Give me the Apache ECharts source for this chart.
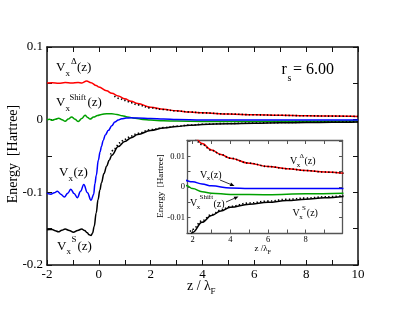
<!DOCTYPE html>
<html><head><meta charset="utf-8">
<script src="https://cdn.jsdelivr.net/npm/echarts@6/dist/echarts.min.js"></script>
<style>html,body{margin:0;padding:0;background:#fff}#c{width:403px;height:312px}</style>
</head><body><div id="c"></div>
<script>
// ---- data (z in units of lambda_F, energy in Hartree) ----
const redZ   = [-2, -1.8, -1.55, -1.3, -1.05, -0.8, -0.65, -0.47, -0.3, -0.1, 0, 0.3, 0.5, 0.75, 1.0, 1.25, 1.5, 2.0, 2.5, 3, 3.5, 4, 5, 6, 7, 8, 9, 10];
const redV   = [0.0505, 0.0508, 0.0502, 0.051, 0.0503, 0.0512, 0.0506, 0.0533, 0.0508, 0.047, 0.0448, 0.0398, 0.0362, 0.0325, 0.0287, 0.0252, 0.0222, 0.0172, 0.0142, 0.0121, 0.0106, 0.0094, 0.0078, 0.0067, 0.006, 0.0054, 0.0049, 0.0045];

const greenZ = [-2, -1.9, -1.8, -1.68, -1.55, -1.42, -1.3, -1.18, -1.05, -0.92, -0.79, -0.66, -0.53, -0.43, -0.34, -0.2, -0.05, 0.1, 0.3, 0.5, 0.7, 0.9, 1.1, 1.4, 1.7, 2.0, 2.5, 3, 4, 6, 8, 10];
const greenV = [0.0, 0.0005, -0.0008, 0.0005, 0.002, 0.0, -0.0022, 0.0008, 0.0038, 0.0005, -0.0025, 0.0015, 0.0062, 0.003, 0.0008, 0.0035, 0.0058, 0.0072, 0.0081, 0.0081, 0.0071, 0.0055, 0.0038, 0.0018, 0.0004, -0.0005, -0.0015, -0.002, -0.0024, -0.0025, -0.0022, -0.002];

const blueZ  = [-2, -1.92, -1.85, -1.72, -1.6, -1.47, -1.33, -1.2, -1.08, -0.955, -0.83, -0.705, -0.58, -0.44, -0.3, -0.2, -0.15, -0.1, -0.02, 0.05, 0.1, 0.17, 0.25, 0.37, 0.5, 0.62, 0.75, 0.88, 1.05, 1.25, 1.5, 2, 2.5, 3, 4, 5, 6, 8, 10];
const blueV  = [-0.1012, -0.1022, -0.1025, -0.1005, -0.0985, -0.1025, -0.1065, -0.1012, -0.0958, -0.1015, -0.1073, -0.0985, -0.0893, -0.1005, -0.111, -0.103, -0.088, -0.077, -0.056, -0.044, -0.037, -0.0285, -0.021, -0.0147, -0.0085, -0.0033, -0.0005, 0.0012, 0.0022, 0.0025, 0.0023, 0.0017, 0.001, 0.0004, -0.0003, -0.0005, -0.0005, -0.0005, -0.0005];

const blackZ = [-2, -1.9, -1.8, -1.68, -1.56, -1.43, -1.3, -1.14, -0.98, -0.82, -0.66, -0.55, -0.45, -0.37, -0.3, -0.24, -0.18, -0.1, -0.03, 0.04, 0.1, 0.2, 0.3, 0.4, 0.5, 0.75, 1.0, 1.25, 1.5, 2, 2.5, 3, 3.5, 4, 5, 6, 7, 8, 9, 10];
const blackV = [-0.1515, -0.151, -0.1512, -0.1528, -0.1543, -0.1522, -0.1505, -0.1525, -0.155, -0.1525, -0.1505, -0.1525, -0.1555, -0.1585, -0.1595, -0.156, -0.147, -0.128, -0.11, -0.097, -0.087, -0.074, -0.064, -0.056, -0.049, -0.037, -0.03, -0.025, -0.0205, -0.0148, -0.0115, -0.0093, -0.0078, -0.0066, -0.0056, -0.005, -0.0044, -0.004, -0.0035, -0.0031];

const dRedZ  = [0.6, 0.8, 1.0, 1.25, 1.5, 2.0, 2.5, 3, 3.5, 4, 5, 6, 7, 8, 9, 10];
const dRedV  = [0.0325, 0.029, 0.0265, 0.0232, 0.0203, 0.0162, 0.0139, 0.012, 0.0106, 0.0094, 0.0078, 0.0067, 0.006, 0.0054, 0.0049, 0.0045];

const dBlkZ  = [0.45, 0.6, 0.8, 1.0, 1.25, 1.5, 2, 2.5, 3, 3.5, 4, 5, 6, 7, 8, 9, 10];
const dBlkV  = [-0.048, -0.040, -0.032, -0.027, -0.0225, -0.0188, -0.0138, -0.011, -0.009, -0.0075, -0.0063, -0.0052, -0.0046, -0.004, -0.0036, -0.0032, -0.0028];

const insetTickZ  = [2, 3, 4, 5, 6, 7, 8, 9];
const insetLabelZ = [2, 4, 6, 8];

// ---- helpers ----
const zip = (a, b) => a.map((v, i) => [v, b[i]]);
const FONT = 'Liberation Serif';
function T(x, y, text, size, opts) {
  return Object.assign({
    type: 'text', x: x, y: y, z: 100,
    style: { text: text, fontFamily: FONT, fontSize: size, fill: '#000',
      textAlign: 'left', textVerticalAlign: 'middle', align: 'left', verticalAlign: 'middle' }
  }, opts || {});
}
function arrow(x1, y1, x2, y2) {
  const a = Math.atan2(y2 - y1, x2 - x1), L = 4.5, W = 1.8;
  const bx = x2 - L * Math.cos(a), by = y2 - L * Math.sin(a);
  const px = -Math.sin(a) * W, py = Math.cos(a) * W;
  return [
    { type: 'line', z: 100, shape: { x1: x1, y1: y1, x2: bx, y2: by }, style: { stroke: '#000', lineWidth: 0.8 } },
    { type: 'polygon', z: 100, shape: { points: [[x2, y2], [bx + px, by + py], [bx - px, by - py]] }, style: { fill: '#000' } }
  ];
}

const mainAxisLine = { onZero: false, lineStyle: { color: '#111', width: 1.5 } };
const insetAxisLine = { onZero: false, lineStyle: { color: '#555', width: 1.3 } };

function xFmt(v) { const r = Math.round(v); return (Math.abs(v - r) < 1e-6 && r % 2 === 0) ? String(r) : ''; }
function yFmtMain(v) { const r = Math.round(v * 100) / 100; return Math.abs(r * 10 - Math.round(r * 10)) < 1e-6 ? (r === 0 ? '0' : String(r)) : ''; }
function yFmtInset(v) { const r = Math.round(v * 1000) / 1000; return Math.abs(r * 100 - Math.round(r * 100)) < 1e-6 ? (r === 0 ? '0' : String(r)) : ''; }

const mainX = { min: -2, max: 10, interval: 1 };
const mainY = { min: -0.2, max: 0.1, interval: 0.05 };
const insX = { min: 1.7, max: 9.95 };
const insY = { min: -0.015, max: 0.0152, interval: 0.005 };

function line(name, z, v, color, xi, yi, dotted) {
  return {
    type: 'line', name: name, data: zip(z, v), xAxisIndex: xi, yAxisIndex: yi,
    showSymbol: false, symbol: 'none', smooth: 0.4, smoothMonotone: 'x', clip: true,
    lineStyle: dotted ? { color: '#000', width: 1.6, type: [1.4, 2.2] } : { color: color, width: 1.5 },
    z: dotted ? 4 : 3, silent: true
  };
}

const option = {
  animation: false,
  backgroundColor: '#fff',
  grid: [
    { left: 47, top: 47, right: 45, bottom: 47, show: false },
    { left: 187, top: 140.5, right: 60.5, bottom: 79, show: true, backgroundColor: '#fff', borderWidth: 0, z: 5 }
  ],
  xAxis: [
    Object.assign({ type: 'value', gridIndex: 0, position: 'bottom', axisLine: mainAxisLine,
      axisTick: { inside: true, length: 5, lineStyle: { color: '#111', width: 1 } },
      axisLabel: { formatter: xFmt, fontFamily: FONT, fontSize: 13, color: '#000', margin: 3 },
      splitLine: { show: false } }, mainX),
    Object.assign({ type: 'value', gridIndex: 0, position: 'top', axisLine: mainAxisLine,
      axisTick: { inside: true, length: 5, lineStyle: { color: '#111', width: 1 } },
      axisLabel: { show: false }, splitLine: { show: false } }, mainX),
    Object.assign({ type: 'value', gridIndex: 1, position: 'bottom', axisLine: insetAxisLine, z: 6,
      axisTick: { inside: true, length: 3.5, customValues: insetTickZ, lineStyle: { color: '#555', width: 1 } },
      axisLabel: { customValues: insetLabelZ, fontFamily: FONT, fontSize: 8.5, color: '#000', margin: 2 },
      splitLine: { show: false } }, insX),
    Object.assign({ type: 'value', gridIndex: 1, position: 'top', axisLine: insetAxisLine, z: 6,
      axisTick: { inside: true, length: 3.5, customValues: insetTickZ, lineStyle: { color: '#555', width: 1 } },
      axisLabel: { show: false }, splitLine: { show: false } }, insX)
  ],
  yAxis: [
    Object.assign({ type: 'value', gridIndex: 0, position: 'left', axisLine: mainAxisLine,
      axisTick: { inside: true, length: 5, lineStyle: { color: '#111', width: 1 } },
      axisLabel: { formatter: yFmtMain, fontFamily: FONT, fontSize: 13, color: '#000', margin: 4 },
      splitLine: { show: false } }, mainY),
    Object.assign({ type: 'value', gridIndex: 0, position: 'right', axisLine: mainAxisLine,
      axisTick: { inside: true, length: 5, lineStyle: { color: '#111', width: 1 } },
      axisLabel: { show: false }, splitLine: { show: false } }, mainY),
    Object.assign({ type: 'value', gridIndex: 1, position: 'left', axisLine: insetAxisLine, z: 6,
      axisTick: { inside: true, length: 3.5, lineStyle: { color: '#555', width: 1 } },
      axisLabel: { formatter: yFmtInset, fontFamily: FONT, fontSize: 8.5, color: '#000', margin: 2 },
      splitLine: { show: false } }, insY),
    Object.assign({ type: 'value', gridIndex: 1, position: 'right', axisLine: insetAxisLine, z: 6,
      axisTick: { inside: true, length: 3.5, lineStyle: { color: '#555', width: 1 } },
      axisLabel: { show: false }, splitLine: { show: false } }, insY)
  ],
  series: [
    line('Vx_delta', redZ, redV, '#ff0000', 0, 0),
    line('Vx_shift', greenZ, greenV, '#00a000', 0, 0),
    line('Vx', blueZ, blueV, '#0000ff', 0, 0),
    line('Vx_S', blackZ, blackV, '#000000', 0, 0),
    line('approx_delta', dRedZ, dRedV, '#000', 0, 0, true),
    line('approx_S', dBlkZ, dBlkV, '#000', 0, 0, true),
    Object.assign(line('Vx_delta_i', redZ, redV, '#ff0000', 2, 2), { z: 7 }),
    Object.assign(line('Vx_shift_i', greenZ, greenV, '#00a000', 2, 2), { z: 7 }),
    Object.assign(line('Vx_i', blueZ, blueV, '#0000ff', 2, 2), { z: 7 }),
    Object.assign(line('Vx_S_i', blackZ, blackV, '#000000', 2, 2), { z: 7 }),
    Object.assign(line('approx_delta_i', dRedZ, dRedV, '#000', 2, 2, true), { z: 8 }),
    Object.assign(line('approx_S_i', dBlkZ, dBlkV, '#000', 2, 2, true), { z: 8 })
  ],
  graphic: [
    // axis titles
    T(13, 154, 'Energy  [Hartree]', 14, { rotation: Math.PI / 2, style: { text: 'Energy  [Hartree]', fontFamily: FONT, fontSize: 14, fill: '#000', textAlign: 'center', textVerticalAlign: 'middle', align: 'center', verticalAlign: 'middle' } }),
    T(187, 286, 'z / \u03bb', 14),
    T(210.5, 291.5, 'F', 9),
    T(161, 186, 'Energy  [Hartree]', 9, { rotation: Math.PI / 2, style: { text: 'Energy  [Hartree]', fontFamily: FONT, fontSize: 9, fill: '#000', textAlign: 'center', textVerticalAlign: 'middle', align: 'center', verticalAlign: 'middle' } }),
    T(254.5, 249, 'z /\u03bb', 9),
    T(267.5, 252, 'F', 6.5),
    // r_s
    T(281.5, 70, 'r', 16),
    T(287.5, 78, 's', 10),
    T(293, 70, '= 6.00', 16),
    // main annotations
    T(56, 68, 'V', 13), T(65.5, 73.5, 'x', 9), T(71, 62, '\u0394', 9), T(77, 68, '(z)', 13),
    T(56, 103, 'V', 13), T(65.5, 108.5, 'x', 9), T(69.5, 98, 'Shift', 8.5), T(87.5, 103, '(z)', 13),
    T(59, 173, 'V', 13), T(68.5, 178.5, 'x', 9), T(73.5, 173, '(z)', 13),
    T(57, 246.5, 'V', 13), T(66.5, 252, 'x', 9), T(71.5, 239.5, 'S', 9), T(77.5, 246.5, '(z)', 13),
    // inset annotations
    T(290, 161.5, 'V', 10), T(296.8, 165.5, 'x', 7), T(299.5, 156.5, '\u0394', 7), T(304.5, 161.5, '(z)', 10),
    T(292.5, 213, 'V', 10), T(299.3, 217, 'x', 7), T(302, 208.5, 'S', 7), T(306.8, 213, '(z)', 10),
    T(200, 175, 'V', 10), T(206.8, 178.5, 'x', 7), T(210.5, 175, '(z)', 10),
    T(190, 203.5, 'V', 10), T(196.8, 207, 'x', 7), T(199.5, 197.5, 'Shift', 7), T(213.5, 204.5, '(z)', 10)
  ].concat(arrow(220, 180, 234.5, 186)).concat(arrow(226, 202, 238.5, 196.5))
};

const chart = echarts.init(document.getElementById('c'), null, { renderer: 'canvas' });
chart.setOption(option);
</script></body></html>
